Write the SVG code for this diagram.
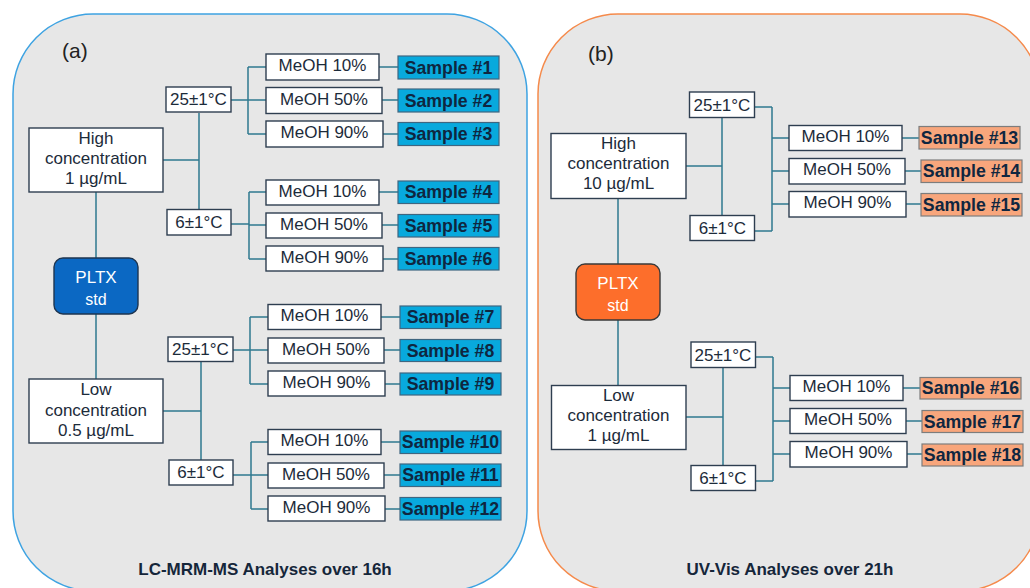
<svg xmlns="http://www.w3.org/2000/svg" width="1030" height="588" viewBox="0 0 1030 588">
<style>
text{font-family:"Liberation Sans",Arial,sans-serif;fill:#1c2b3a}
.box{fill:#fff;stroke:#2e3e50;stroke-width:1.4}
.t{font-size:17px;text-anchor:middle}
.s{font-size:17.7px;font-weight:bold;text-anchor:middle;fill:#0f2640}
.sb{fill:#08a9dd;stroke:#3f6680;stroke-width:1.2}
.so{fill:#f8a67c;stroke:#7d7d7d;stroke-width:1.2}
.w{fill:#fff;font-size:17px;text-anchor:middle}
.ws{fill:#fff;font-size:16px;text-anchor:middle}
.ft{font-size:17px;font-weight:bold;text-anchor:middle;fill:#15263a}
.lab{font-size:21px;fill:#222}
#connectors path{fill:none;stroke:#2f7a90;stroke-width:1.5}
</style>
<g id="panel-a"><rect x="13" y="14" width="514" height="577" rx="80" fill="#e7e7e7" stroke="#3ea3e2" stroke-width="1.5"/></g>
<g id="panel-b"><rect x="538" y="14" width="502" height="577" rx="80" fill="#e7e7e7" stroke="#f58a4b" stroke-width="1.5"/></g>
<text class="lab" x="62" y="58">(a)</text>
<text class="lab" x="588" y="61">(b)</text>
<g id="connectors">
<path d="M96 192V258M96 314V379"/>
<path d="M163 160H199M199 113V209"/>
<path d="M231 100H248M248 67V134M248 67H266M248 100H266M248 134H266"/>
<path d="M379 67H398M382 100H398M383 134H398"/>
<path d="M231 224H249M249 192V259M249 192H266M249 225H266M249 259H266"/>
<path d="M379 192H398M382 225H398M383 259H398"/>
<path d="M163 411H201M201 362V460"/>
<path d="M233 350H250M250 317V384M250 317H268M250 350H268M250 384H268"/>
<path d="M381 317H400M384 350H400M385 384H400"/>
<path d="M233 475H251M251 442V509M251 442H268M251 475H268M251 509H268"/>
<path d="M381 442H400M384 475H400M385 509H400"/>
<path d="M618 198V264M618 320V385"/>
<path d="M686 166H722M722 118V215"/>
<path d="M755 107H772M772 107V231M755 231H772M772 138H789M772 171H789M772 204H789"/>
<path d="M902 138H919M905 171H921M906 204H921"/>
<path d="M686 417H723M723 368V465"/>
<path d="M755 357H773M773 357V481M755 481H773M773 388H790M773 421H790M773 454H790"/>
<path d="M903 388H920M906 421H922M907 454H922"/>
</g>
<g id="pltx-a"><rect x="54" y="258" width="84" height="56" rx="9" fill="#0b68c3" stroke="#1e3550" stroke-width="1.4"/><text class="w" x="96" y="283">PLTX</text><text class="ws" x="96" y="305">std</text></g>
<g id="pltx-b"><rect x="576" y="264" width="84" height="56" rx="9" fill="#fd6e2b" stroke="#3a3a3a" stroke-width="1.4"/><text class="w" x="618" y="289">PLTX</text><text class="ws" x="618" y="311">std</text></g>
<g id="high-a"><rect class="box" x="29" y="128" width="134" height="64"/><text class="t" x="96" y="144">High</text><text class="t" x="96" y="164">concentration</text><text class="t" x="96" y="184">1 µg/mL</text></g>
<g id="low-a"><rect class="box" x="29" y="379" width="134" height="64"/><text class="t" x="96" y="395">Low</text><text class="t" x="96" y="415.5">concentration</text><text class="t" x="96" y="435.5">0.5 µg/mL</text></g>
<g id="t25-a1"><rect class="box" x="166" y="87" width="65" height="25"/><text class="t" x="198.5" y="105">25±1°C</text></g>
<g id="t6-a1"><rect class="box" x="167" y="209.5" width="64" height="25.5"/><text class="t" x="199" y="228">6±1°C</text></g>
<g id="t25-a2"><rect class="box" x="168" y="337" width="65" height="24.5"/><text class="t" x="200.5" y="355">25±1°C</text></g>
<g id="t6-a2"><rect class="box" x="169" y="460" width="64" height="25"/><text class="t" x="201" y="478">6±1°C</text></g>
<g id="m1"><rect class="box" x="266" y="54" width="113" height="26"/><text class="t" x="322.5" y="71">MeOH 10%</text></g>
<g id="m2"><rect class="box" x="266" y="87.5" width="116" height="26"/><text class="t" x="324" y="104.5">MeOH 50%</text></g>
<g id="m3"><rect class="box" x="266" y="121" width="117" height="26"/><text class="t" x="324.5" y="138">MeOH 90%</text></g>
<g id="m4"><rect class="box" x="266" y="180" width="113" height="25"/><text class="t" x="322.5" y="196.5">MeOH 10%</text></g>
<g id="m5"><rect class="box" x="266" y="213" width="116" height="25"/><text class="t" x="324" y="229.5">MeOH 50%</text></g>
<g id="m6"><rect class="box" x="266" y="246" width="117" height="25"/><text class="t" x="324.5" y="262.5">MeOH 90%</text></g>
<g id="m7"><rect class="box" x="268" y="304.5" width="113" height="25"/><text class="t" x="324.5" y="321">MeOH 10%</text></g>
<g id="m8"><rect class="box" x="268" y="338" width="116" height="25"/><text class="t" x="326" y="354.5">MeOH 50%</text></g>
<g id="m9"><rect class="box" x="268" y="371" width="117" height="25"/><text class="t" x="326.5" y="387.5">MeOH 90%</text></g>
<g id="m10"><rect class="box" x="268" y="429.5" width="113" height="25"/><text class="t" x="324.5" y="446">MeOH 10%</text></g>
<g id="m11"><rect class="box" x="268" y="463" width="116" height="25"/><text class="t" x="326" y="479.5">MeOH 50%</text></g>
<g id="m12"><rect class="box" x="268" y="496" width="117" height="25"/><text class="t" x="326.5" y="512.5">MeOH 90%</text></g>
<g id="s1"><rect class="sb" x="398" y="56" width="101" height="23"/><text class="s" x="448.5" y="73.5">Sample #1</text></g>
<g id="s2"><rect class="sb" x="398" y="89" width="101" height="23"/><text class="s" x="448.5" y="106.5">Sample #2</text></g>
<g id="s3"><rect class="sb" x="398" y="122.5" width="101" height="23"/><text class="s" x="448.5" y="140">Sample #3</text></g>
<g id="s4"><rect class="sb" x="398" y="181" width="101" height="22.5"/><text class="s" x="448.5" y="198">Sample #4</text></g>
<g id="s5"><rect class="sb" x="398" y="214.5" width="101" height="22.5"/><text class="s" x="448.5" y="231.5">Sample #5</text></g>
<g id="s6"><rect class="sb" x="398" y="247.5" width="101" height="22.5"/><text class="s" x="448.5" y="264.5">Sample #6</text></g>
<g id="s7"><rect class="sb" x="400" y="306" width="101" height="22.5"/><text class="s" x="450.5" y="323">Sample #7</text></g>
<g id="s8"><rect class="sb" x="400" y="339.5" width="101" height="22"/><text class="s" x="450.5" y="356.5">Sample #8</text></g>
<g id="s9"><rect class="sb" x="400" y="373" width="101" height="22"/><text class="s" x="450.5" y="390">Sample #9</text></g>
<g id="s10"><rect class="sb" x="400" y="431" width="101" height="22.5"/><text class="s" x="450.5" y="448">Sample #10</text></g>
<g id="s11"><rect class="sb" x="400" y="464" width="101" height="22.5"/><text class="s" x="450.5" y="481">Sample #11</text></g>
<g id="s12"><rect class="sb" x="400" y="497.5" width="101" height="22.5"/><text class="s" x="450.5" y="514.5">Sample #12</text></g>
<text class="ft" x="265" y="575">LC-MRM-MS Analyses over 16h</text>
<g id="high-b"><rect class="box" x="551" y="133.5" width="135" height="65"/><text class="t" x="618.5" y="149">High</text><text class="t" x="618.5" y="169">concentration</text><text class="t" x="618.5" y="189">10 µg/mL</text></g>
<g id="low-b"><rect class="box" x="551.5" y="385.5" width="134.5" height="64"/><text class="t" x="618.5" y="401">Low</text><text class="t" x="618.5" y="421">concentration</text><text class="t" x="618.5" y="441">1 µg/mL</text></g>
<g id="t25-b1"><rect class="box" x="689.5" y="92" width="65" height="25.5"/><text class="t" x="722" y="110.5">25±1°C</text></g>
<g id="t6-b1"><rect class="box" x="690" y="215.5" width="64.5" height="25"/><text class="t" x="722.5" y="234">6±1°C</text></g>
<g id="t25-b2"><rect class="box" x="691" y="342" width="64.5" height="25.5"/><text class="t" x="723" y="360.5">25±1°C</text></g>
<g id="t6-b2"><rect class="box" x="691" y="465.5" width="64.5" height="25"/><text class="t" x="723" y="484">6±1°C</text></g>
<g id="m13"><rect class="box" x="789" y="125.5" width="113" height="25"/><text class="t" x="845.5" y="142">MeOH 10%</text></g>
<g id="m14"><rect class="box" x="789" y="158.5" width="116" height="25.5"/><text class="t" x="847" y="175">MeOH 50%</text></g>
<g id="m15"><rect class="box" x="789" y="191.5" width="117" height="25.5"/><text class="t" x="847.5" y="208">MeOH 90%</text></g>
<g id="m16"><rect class="box" x="790" y="375.5" width="113" height="25"/><text class="t" x="846.5" y="392">MeOH 10%</text></g>
<g id="m17"><rect class="box" x="790" y="408.5" width="116" height="25"/><text class="t" x="848" y="425">MeOH 50%</text></g>
<g id="m18"><rect class="box" x="790" y="441.5" width="117" height="25.5"/><text class="t" x="848.5" y="458">MeOH 90%</text></g>
<g id="s13"><rect class="so" x="919" y="126.5" width="101" height="22.5"/><text class="s" x="969.5" y="143.5">Sample #13</text></g>
<g id="s14"><rect class="so" x="921" y="160" width="101" height="22.5"/><text class="s" x="971.5" y="177">Sample #14</text></g>
<g id="s15"><rect class="so" x="921" y="193.5" width="101" height="22.5"/><text class="s" x="971.5" y="210.5">Sample #15</text></g>
<g id="s16"><rect class="so" x="920" y="377.5" width="101" height="21.5"/><text class="s" x="970.5" y="394">Sample #16</text></g>
<g id="s17"><rect class="so" x="922" y="410.5" width="101" height="22"/><text class="s" x="972.5" y="427.5">Sample #17</text></g>
<g id="s18"><rect class="so" x="922" y="444" width="101" height="22"/><text class="s" x="972.5" y="461">Sample #18</text></g>
<text class="ft" x="790" y="575">UV-Vis Analyses over 21h</text>
</svg>
